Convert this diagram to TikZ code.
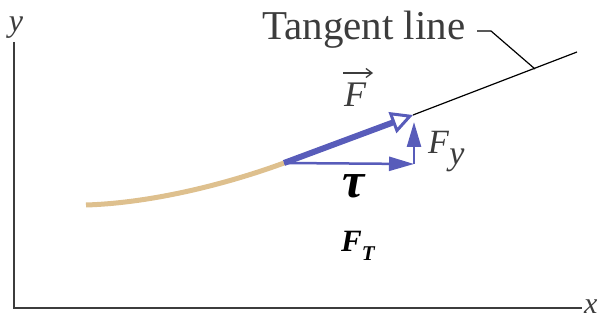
\documentclass[tikz,border=0pt]{standalone}
\usepackage{fontspec}
\setmainfont{Liberation Serif}
\usetikzlibrary{arrows.meta}
\definecolor{fblue}{RGB}{88,92,186}
\definecolor{rope}{RGB}{222,192,142}
\definecolor{axisgray}{RGB}{60,60,60}
\definecolor{labgray}{RGB}{60,60,60}
\tikzset{
  axisline/.style={draw=axisgray, line width=2.4pt},
  ropeline/.style={draw=rope, line width=5pt},
  forcemain/.style={draw=fblue, line width=6pt, -{Triangle[open, length=22pt, width=22pt, line width=3pt]}},
  forcecomp/.style={draw=fblue, line width=2.5pt, -{Triangle[length=25pt, width=14pt]}},
  lab/.style={inner sep=0pt, anchor=base west},
}
\begin{document}
\begin{tikzpicture}[x=1pt, y=-1pt]
\useasboundingbox (0,0) rectangle (601,320);
% coordinates
\coordinate (yt) at (14,42);
\coordinate (org) at (14,308);
\coordinate (xe) at (582,308);
\coordinate (rs) at (86,205);
\coordinate (O) at (284,163);
\coordinate (tip) at (413,115);
\coordinate (corner) at (414,164);
\coordinate (vtip) at (414,122);
\coordinate (te) at (577,52);
\coordinate (l1) at (477,31);
\coordinate (l2) at (491,31);
\coordinate (l3) at (535,69);
\coordinate (va) at (343,73);
\coordinate (vb) at (373,73);
% axes
\draw[axisline] (yt) -- (org) -- (xe);
\node[lab, anchor=base, font=\fontsize{32}{34}\selectfont\itshape, text=axisgray] (ylab) at (16,32) {y};
\node[lab, font=\fontsize{30}{32}\selectfont\itshape, text=axisgray] (xlab) at (584,313) {x};
% rope
\draw[ropeline] (rs) .. controls (150,203) and (224,185) .. (O);
% tangent line
\draw[black, line width=1.2pt] (tip) -- (te);
\draw[black, line width=1.2pt] (l1) -- (l2) -- (l3);
\node[lab, font=\fontsize{41}{43}\selectfont, text=labgray] (tl) at (262,40) {Tangent line};
% forces
\draw[forcecomp] (O) -- (corner);
\draw[forcecomp] (corner) -- (vtip);
\draw[forcemain] (O) -- (tip);
% labels
\node[lab, font=\fontsize{36}{38}\selectfont\itshape, text=labgray] (Flab) at (344,107) {F};
\draw[labgray, line width=1.3pt, -{Straight Barb[length=6pt, width=9pt, line width=1.3pt]}] (va) -- (vb);
\node[lab, font=\fontsize{34}{36}\selectfont, text=labgray] (Fylab) at (428,154) {\textit{F}\raisebox{-0.3em}{\textit{y}}};
\node[lab, anchor=base, font=\fontsize{50}{52}\selectfont\bfseries\itshape, text=black] (tau) at (354,197) {τ};
\node[lab, font=\fontsize{31}{33}\selectfont\bfseries\itshape, text=black] (FT) at (341,251) {F\raisebox{-0.3em}{\fontsize{21}{22}\selectfont T}};
\end{tikzpicture}
\end{document}
